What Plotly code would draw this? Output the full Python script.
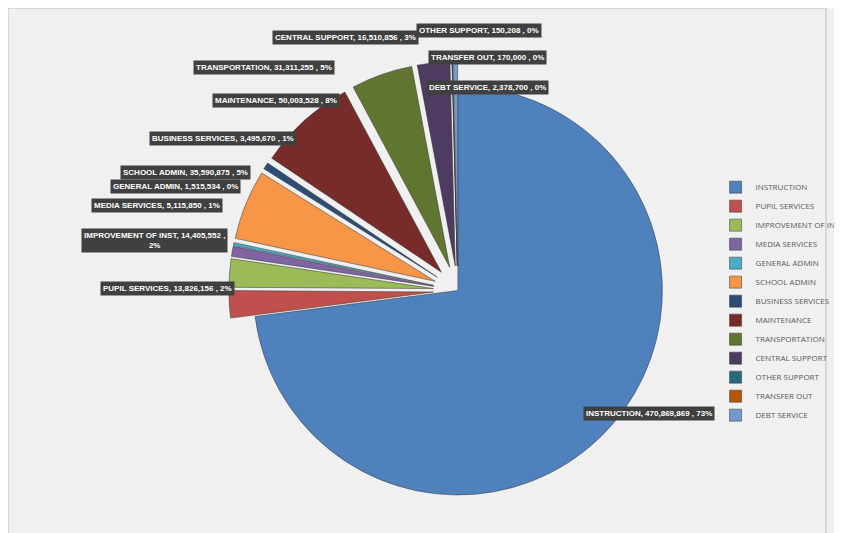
import plotly.graph_objects as go

labels = ["INSTRUCTION", "PUPIL SERVICES", "IMPROVEMENT OF INST", "MEDIA SERVICES",
          "GENERAL ADMIN", "SCHOOL ADMIN", "BUSINESS SERVICES", "MAINTENANCE",
          "TRANSPORTATION", "CENTRAL SUPPORT", "OTHER SUPPORT", "TRANSFER OUT", "DEBT SERVICE"]
values = [470869869, 13826156, 14405552, 5115850, 1515534, 35590875, 3495670,
          50003528, 31311255, 16510856, 150208, 170000, 2378700]
percents = [73, 2, 2, 1, 0, 5, 1, 8, 5, 3, 0, 0, 0]
colors = ["#4F81BD", "#C0504D", "#9BBB59", "#8064A2", "#4BACC6", "#F79646", "#2C4D75",
          "#772C2A", "#5F7530", "#4D3B62", "#276A7C", "#B65708", "#729ACA"]

# label box centres, in pixels of the 842x533 picture
label_px = [(728, 413), (95, 280), (75, 232), (85, 197), (105, 171), (115, 157),
            (145, 123), (210, 85), (190, 52), (272, 22), (485, 15), (494, 42), (494, 72)]

fig = go.Figure(go.Pie(
    labels=labels, values=values, sort=False, direction="clockwise", rotation=0,
    marker=dict(colors=colors, line=dict(color="#333333", width=0.5)),
    pull=[0] + [0.12] * 12, textinfo="none", hoverinfo="label+value+percent",
    domain=dict(x=[0.27, 0.83], y=[0.04, 0.9]),
))

for lab, val, pct, (px, py) in zip(labels, values, percents, label_px):
    text = f"{lab}, {val:,} , {pct}%"
    if lab == "IMPROVEMENT OF INST":
        text = f"{lab}, {val:,} ,<br>{pct}%"
    fig.add_annotation(x=px / 842, y=1 - py / 533, xref="paper", yref="paper",
                       text=f"<b>{text}</b>", showarrow=False,
                       font=dict(size=8, color="white", family="Liberation Sans Narrow, Arial Narrow, sans-serif"),
                       bgcolor="#404040", borderpad=2)

fig.update_layout(
    width=842, height=533, margin=dict(l=0, r=0, t=0, b=0),
    paper_bgcolor="#f0f0f0",
    showlegend=True,
    legend=dict(x=0.865, y=0.45, yanchor="middle", font=dict(size=8, color="#595959"),
                bgcolor="rgba(0,0,0,0)", itemwidth=30, tracegroupgap=0),
    shapes=[dict(type="rect", xref="paper", yref="paper", x0=0, y0=0, x1=1, y1=1,
                 line=dict(color="#bfbfbf", width=1))],
)

fig.write_html("out.html")
